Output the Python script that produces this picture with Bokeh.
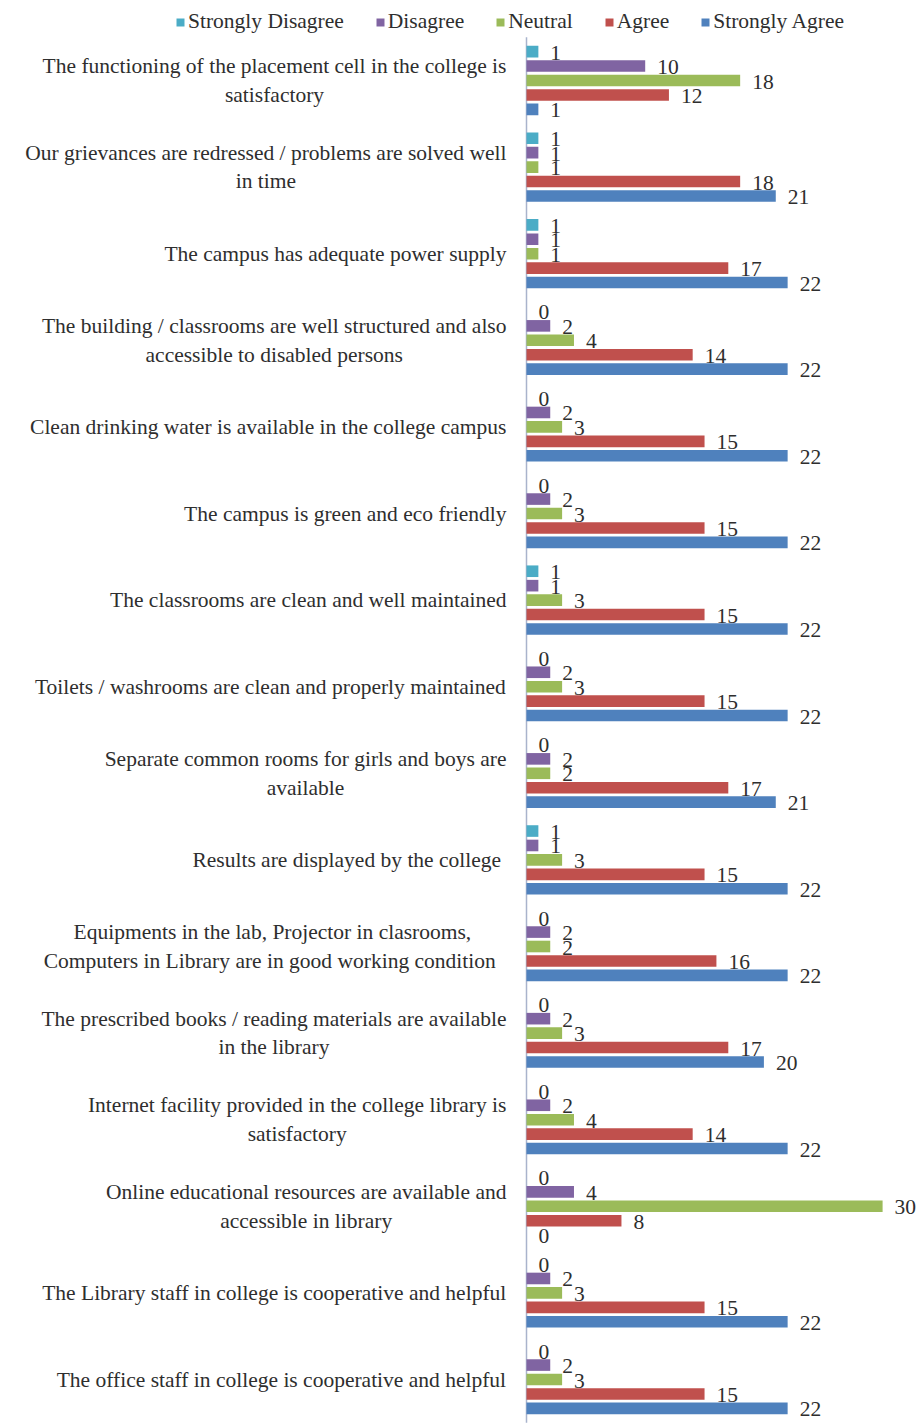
import numpy as np
from bokeh.plotting import figure
from bokeh.models import ColumnDataSource, Range1d, Legend, LegendItem
from bokeh.core.properties import value
from bokeh.embed import file_html
from bokeh.resources import INLINE

# ---------------- data ----------------
statements = [
    "The functioning of the placement cell in the college is\nsatisfactory",
    "Our grievances are redressed / problems are solved well\nin time",
    "The campus has adequate power supply",
    "The building / classrooms are well structured and also\naccessible to disabled persons",
    "Clean drinking water is available in the college campus",
    "The campus is green and eco friendly",
    "The classrooms are clean and well maintained",
    "Toilets / washrooms are clean and properly maintained",
    "Separate common rooms for girls and boys are\navailable",
    "Results are displayed  by the college",
    "Equipments  in the lab, Projector in clasrooms,\nComputers in Library   are in good working condition",
    "The prescribed books / reading materials are available\nin the library",
    "Internet facility provided in the college library is\nsatisfactory",
    "Online educational resources are available and\naccessible in library",
    "The Library staff in college is cooperative and helpful",
    "The office staff in college is cooperative and helpful",
]
strongly_disagree = [1, 1, 1, 0, 0, 0, 1, 0, 0, 1, 0, 0, 0, 0, 0, 0]
disagree          = [10, 1, 1, 2, 2, 2, 1, 2, 2, 1, 2, 2, 2, 4, 2, 2]
neutral           = [18, 1, 1, 4, 3, 3, 3, 3, 2, 3, 2, 3, 4, 30, 3, 3]
agree             = [12, 18, 17, 14, 15, 15, 15, 15, 17, 15, 16, 17, 14, 8, 15, 15]
strongly_agree    = [1, 21, 22, 22, 22, 22, 22, 22, 21, 22, 22, 20, 22, 0, 22, 22]

series_names = ["Strongly Disagree", "Disagree", "Neutral", "Agree", "Strongly Agree"]
series_values = [strongly_disagree, disagree, neutral, agree, strongly_agree]
series_colors = ["#4BACC6", "#8064A2", "#9BBB59", "#C0504D", "#4F81BD"]

# ---------------- layout / style ----------------
FONT = "Liberation Serif"
FS = 21.5
TXT = "#2E2E2E"
W, H = 920, 1425
PITCH = 86.6      # px per statement group
FIRST = 80        # px from top of frame to first group centre
X0 = 526          # px from left of frame to value axis
XSCALE = 11.87    # px per unit

# Times-Roman advance widths (1/1000 em) to centre multi-line labels
TW = {" ": 250, ",": 250, ".": 250, "/": 278,
      "A": 722, "B": 667, "C": 667, "D": 722, "E": 611, "F": 556, "G": 722, "H": 722,
      "I": 333, "J": 389, "K": 722, "L": 611, "M": 889, "N": 722, "O": 722, "P": 556,
      "Q": 722, "R": 667, "S": 556, "T": 611, "U": 722, "V": 722, "W": 944, "X": 722,
      "Y": 722, "Z": 611,
      "a": 444, "b": 500, "c": 444, "d": 500, "e": 444, "f": 333, "g": 500, "h": 500,
      "i": 278, "j": 278, "k": 500, "l": 278, "m": 778, "n": 500, "o": 500, "p": 500,
      "q": 500, "r": 333, "s": 389, "t": 278, "u": 500, "v": 500, "w": 722, "x": 500,
      "y": 500, "z": 444}


def text_width(s, size):
    return sum(TW.get(ch, 500) for ch in s) / 1000.0 * size


n = len(statements)
y_top = -FIRST / PITCH
y_bot = (H - FIRST) / PITCH
x_lo = -X0 / XSCALE
x_hi = (W - X0) / XSCALE

p = figure(width=W, height=H,
           x_range=Range1d(x_lo, x_hi), y_range=Range1d(y_bot, y_top),
           output_backend="svg", toolbar_location=None,
           x_axis_location=None, y_axis_location=None,
           min_border=0, outline_line_color=None,
           background_fill_color="white", border_fill_color="white")
p.grid.visible = False

idx = np.arange(n)

# value axis line
p.segment(x0=[0], y0=[-0.5], x1=[0], y1=[n - 0.5], line_color="#A9B3CC", line_width=1.5)

renderers = []
for k, (name, vals, col) in enumerate(zip(series_names, series_values, series_colors)):
    src = ColumnDataSource(dict(y=idx + (k - 2) / 6.0, v=vals, t=[str(v) for v in vals]))
    r = p.hbar(y="y", left=0, right="v", height=0.134, source=src,
               fill_color=col, line_color=None)
    p.text(x="v", y="y", text="t", source=src, x_offset=12, y_offset=1,
           text_align="left", text_baseline="middle",
           text_font=value(FONT), text_font_size=f"{FS}px", text_color=TXT)
    renderers.append(r)

# category labels
lab_w = [max(text_width(line, FS) for line in s.split("\n")) for s in statements]
lab_src = ColumnDataSource(dict(x=[0] * n, y=idx, text=statements,
                                xo=[-(20 + w / 2.0) for w in lab_w]))
p.text(x="x", y="y", text="text", source=lab_src, x_offset="xo",
       text_align="center", text_baseline="middle", text_line_height=1.2,
       text_font=value(FONT), text_font_size=f"{FS}px", text_color=TXT)

legend = Legend(items=[LegendItem(label=nm, renderers=[r]) for nm, r in zip(series_names, renderers)],
                orientation="horizontal", location=(175, H - 34),
                glyph_width=10, glyph_height=10, label_standoff=3, spacing=31,
                padding=0, margin=0, border_line_alpha=0, background_fill_alpha=0,
                label_text_font=FONT, label_text_font_size=f"{FS}px",
                label_text_color=TXT)
p.add_layout(legend)

open("out.html", "w").write(file_html(p, INLINE))
